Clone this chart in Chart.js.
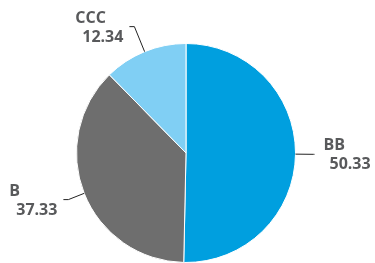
<!DOCTYPE html>
<html>
<head>
<meta charset="utf-8">
<script src="https://cdn.jsdelivr.net/npm/chart.js@4"></script>
<style>
  html, body { margin: 0; padding: 0; background: #fff; }
  #wrap { width: 375px; height: 263px; position: relative; }
</style>
</head>
<body>
<div id="wrap"><canvas id="myChart"></canvas></div>
<script>
'use strict';

// chart data
let ratingNames = ['BB', 'B', 'CCC'];
let ratingValues = [50.33, 37.33, 12.34];
let sliceColors = ['#009FDF', '#6E6E6E', '#80CFF4'];

// leader line length outward from the pie edge, per slice
let leaderLengths = [18, 17, 27];

let labelPlugin = {
  id: 'outsideLabels',
  afterDatasetsDraw(chart) {
    let ctx = chart.ctx;
    let meta = chart.getDatasetMeta(0);
    ctx.save();
    ctx.font = 'bold 16px "Open Sans"';
    ctx.textBaseline = 'alphabetic';
    meta.data.forEach(function (arc, i) {
      let mid = (arc.startAngle + arc.endAngle) / 2;
      let r = arc.outerRadius;
      let cos = Math.cos(mid);
      let sin = Math.sin(mid);
      let x1 = arc.x + cos * r;
      let y1 = arc.y + sin * r;
      let len = leaderLengths[i];
      let x2 = arc.x + cos * (r + len);
      let y2 = arc.y + sin * (r + len);
      let right = cos >= 0;
      let x3 = right ? x2 + 1 : x2 - 5;

      ctx.strokeStyle = '#222';
      ctx.lineWidth = 1;
      ctx.beginPath();
      ctx.moveTo(x1, y1);
      ctx.lineTo(x2, y2);
      ctx.lineTo(x3, y2);
      ctx.stroke();

      ctx.fillStyle = '#58595B';
      let valueText = ratingValues[i].toFixed(2);
      let nameText = ratingNames[i];
      if (right) {
        ctx.textAlign = 'left';
        ctx.fillText(nameText, x3 + 9, y2 - 4);
        ctx.fillText(valueText, x3 + 15, y2 + 15);
      } else {
        let valueWidth = ctx.measureText(valueText).width;
        let valueLeft = x3 - 6 - valueWidth;
        ctx.textAlign = 'left';
        ctx.fillText(nameText, valueLeft - 7, y2 - 4);
        ctx.fillText(valueText, valueLeft, y2 + 15);
      }
    });
    ctx.restore();
  }
};

let chartObject = {
  type: 'pie',
  data: {
    labels: ratingNames,
    datasets: [{
      data: ratingValues,
      backgroundColor: sliceColors,
      borderColor: '#ffffff',
      borderWidth: 1
    }]
  },
  options: {
    responsive: true,
    maintainAspectRatio: false,
    animation: false,
    layout: {
      padding: { top: 43, bottom: 0, left: 75, right: 78 }
    },
    plugins: {
      legend: { display: false },
      tooltip: { enabled: false }
    }
  },
  plugins: [labelPlugin]
};

let ctx = document.getElementById('myChart').getContext('2d');
let myChart = new Chart(ctx, chartObject);
</script>
</body>
</html>
